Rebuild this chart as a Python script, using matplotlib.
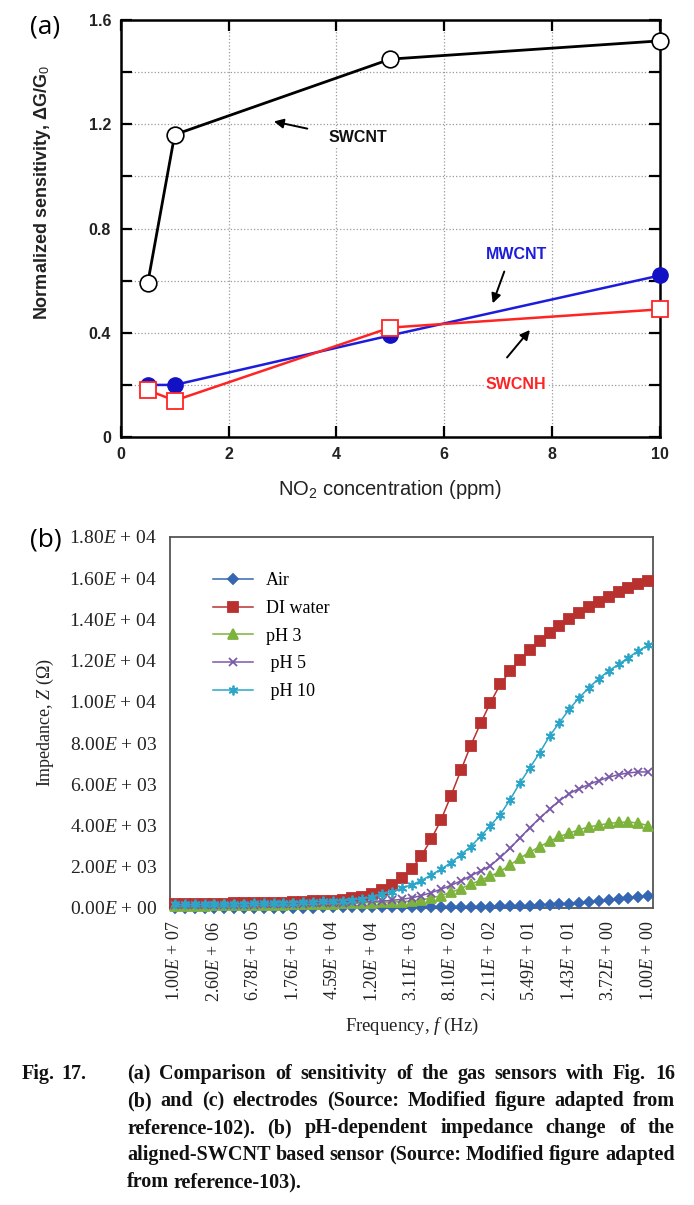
import numpy as np
import matplotlib
matplotlib.use("Agg")
import matplotlib.pyplot as plt

plt.rcParams['mathtext.fontset'] = 'custom'
plt.rcParams['mathtext.rm'] = 'Liberation Serif'
plt.rcParams['mathtext.it'] = 'Liberation Serif:italic'
plt.rcParams['mathtext.bf'] = 'Liberation Serif:bold'
plt.rcParams['mathtext.sf'] = 'Liberation Sans'

# ---- panel (a) data: NO2 sensitivity ----
conc = [0.5, 1, 5, 10]
swcnt = [0.59, 1.16, 1.45, 1.52]
mwcnt = [0.20, 0.20, 0.39, 0.62]
swcnh = [0.18, 0.14, 0.42, 0.49]

# ---- panel (b) data: impedance vs frequency (49 sweep points, high -> low f) ----
freq_labels = ['1.00E + 07', '2.60E + 06', '6.78E + 05', '1.76E + 05', '4.59E + 04',
               '1.20E + 04', '3.11E + 03', '8.10E + 02', '2.11E + 02', '5.49E + 01',
               '1.43E + 01', '3.72E + 00', '1.00E + 00']
air = [20, 20, 20, 20, 20, 20, 20, 20, 20, 20, 20, 20, 20, 20, 20, 25, 25, 25, 25, 30,
       30, 30, 35, 35, 40, 40, 45, 45, 50, 55, 60, 65, 70, 80, 90, 100, 110, 125, 145, 170,
       200, 240, 280, 320, 370, 420, 470, 530, 580]
di_water = [200, 200, 205, 210, 210, 215, 220, 225, 235, 245, 255, 265, 280, 295, 315, 335, 360,
            390, 470, 550, 680, 880, 1120, 1440, 1880, 2530, 3340, 4280, 5450, 6670, 7880, 8950,
            9960, 10850, 11500, 12030, 12500, 12960, 13320, 13690, 14010, 14310, 14580, 14830,
            15070, 15310, 15510, 15720, 15880]
ph3 = [100, 105, 110, 115, 120, 125, 130, 135, 140, 145, 150, 160, 170, 180, 190, 200, 210, 220,
       235, 250, 265, 280, 295, 310, 330, 400, 480, 600, 760, 940, 1150, 1350, 1550, 1770, 2090,
       2420, 2710, 2980, 3230, 3470, 3630, 3800, 3930, 4020, 4100, 4150, 4170, 4120, 3990]
ph5 = [120, 125, 130, 135, 140, 145, 150, 155, 160, 170, 180, 190, 200, 210, 220, 235, 250, 265,
       280, 300, 320, 340, 370, 420, 490, 600, 745, 910, 1100, 1310, 1560, 1800, 2050, 2450, 2900,
       3400, 3900, 4350, 4800, 5200, 5550, 5790, 5990, 6180, 6340, 6470, 6550, 6600, 6600]
ph10 = [170, 175, 180, 185, 190, 195, 200, 210, 220, 230, 240, 250, 265, 280, 295, 315, 335, 360,
        390, 440, 540, 680, 790, 960, 1120, 1330, 1610, 1880, 2200, 2580, 2980, 3470, 4000, 4530,
        5260, 6070, 6800, 7530, 8340, 8990, 9640, 10200, 10690, 11130, 11500, 11820, 12150, 12470,
        12750]
y_labels = ['0.00E + 00', '2.00E + 03', '4.00E + 03', '6.00E + 03', '8.00E + 03',
            '1.00E + 04', '1.20E + 04', '1.40E + 04', '1.60E + 04', '1.80E + 04']

caption = ["Fig. 17. (a) Comparison of sensitivity of the gas sensors with Fig. 16",
           "(b) and (c) electrodes (Source: Modified figure adapted from",
           "reference-102). (b) pH-dependent impedance change of the",
           "aligned-SWCNT based sensor (Source: Modified figure adapted",
           "from reference-103)."]

W, H = 694, 1205
fig = plt.figure(figsize=(W / 100, H / 100), dpi=100)

# ================= panel (a) =================
sans = 'Liberation Sans'
ax1 = fig.add_axes([0.174, 0.6373, 0.777, 0.3461])
ax1.plot(conc, mwcnt, color='#1c1cdc', lw=1.8, marker='o', ms=11, mfc='#1212c4',
         mec='#1212c4', zorder=3, clip_on=False)
ax1.plot(conc, swcnh, color='#ff2424', lw=1.8, marker='s', ms=12, mfc='white',
         mec='#ff2424', mew=1.3, zorder=4, clip_on=False)
ax1.plot(conc, swcnt, color='black', lw=2.0, marker='o', ms=12, mfc='white',
         mec='black', mew=1.2, zorder=5, clip_on=False)

ax1.set_xlim(0, 10)
ax1.set_ylim(0, 1.6)
ax1.set_xticks([0, 2, 4, 6, 8, 10])
ax1.set_yticks(np.arange(0, 1.61, 0.2))
ax1.set_yticklabels(['0', '', '0.4', '', '0.8', '', '1.2', '', '1.6'])
ax1.grid(True, ls=':', color='#9a9a9a', lw=0.9)
ax1.tick_params(direction='in', length=8, width=1.6, top=True, right=True,
                labelsize=11.5, pad=7)
for lab in ax1.get_xticklabels() + ax1.get_yticklabels():
    lab.set_fontweight('bold')
    lab.set_family(sans)
    lab.set_color('#222222')
for sp in ax1.spines.values():
    sp.set_linewidth(1.8)
ax1.set_ylabel('Normalized sensitivity, ΔG/G$_\\mathsf{0}$', fontsize=13, family=sans,
               fontweight='bold', color='#222222')
ax1.yaxis.set_label_coords(-0.125, 0.585)
ax1.set_xlabel('NO$_\\mathsf{2}$ concentration (ppm)', fontsize=14.5, family=sans,
               color='#222222', labelpad=12)

ann_font = dict(fontsize=11.5, fontweight='bold', family=sans, ha='center', va='center')
ax1.annotate('', xy=(2.79, 1.213), xytext=(3.51, 1.181),
             arrowprops=dict(arrowstyle='-|>', color='black', lw=1.4, mutation_scale=14))
ax1.text(4.40, 1.148, 'SWCNT', color='#111111', bbox=dict(fc='white', ec='none', pad=1),
         **ann_font)
ax1.annotate('', xy=(6.88, 0.503), xytext=(7.13, 0.645),
             arrowprops=dict(arrowstyle='-|>', color='black', lw=1.4, mutation_scale=14))
ax1.text(7.33, 0.70, 'MWCNT', color='#1c1cdc', bbox=dict(fc='white', ec='none', pad=1),
         **ann_font)
ax1.annotate('', xy=(7.62, 0.419), xytext=(7.13, 0.297),
             arrowprops=dict(arrowstyle='-|>', color='black', lw=1.4, mutation_scale=14))
ax1.text(7.33, 0.20, 'SWCNH', color='#ff2424', bbox=dict(fc='white', ec='none', pad=1),
         **ann_font)

fig.text(0.065, 0.978, '(a)', fontsize=19, family='Open Sans', ha='center', va='center')

# ================= panel (b) =================
ax2 = fig.add_axes([0.245, 0.2465, 0.696, 0.3079])
x = np.arange(len(air))
series = [
    ('Air', air, '#3566b2', 'D', 5),
    ('DI water', di_water, '#b8312f', 's', 6.5),
    ('pH 3', ph3, '#7db33c', '^', 6.5),
    (' pH 5', ph5, '#7a5aa8', 'x', 6),
    (' pH 10', ph10, '#2ba5c8', (6, 2, 0), 7),
]
for name, vals, col, mk, ms in series:
    ax2.plot(x, vals, color=col, lw=1.1, marker=mk, ms=ms, mec=col, mfc=col,
             mew=1.3, label=name, clip_on=False, zorder=3)

ax2.set_xlim(-0.5, 48.5)
ax2.set_ylim(0, 18000)
ax2.set_yticks(np.arange(0, 18001, 2000))
ax2.set_yticklabels([s.replace('E', '$E$') for s in y_labels],
                    family='Liberation Serif', fontsize=14)
ax2.set_xticks(x[::4])
ax2.set_xticklabels([s.replace('E', '$E$') for s in freq_labels], rotation=90,
                    family='Liberation Serif', fontsize=13)
ax2.tick_params(length=0, pad=9, colors='#222222')
for sp in ax2.spines.values():
    sp.set_linewidth(1.3)
    sp.set_color('#555555')
ax2.set_ylabel('Impedance, $Z$ (Ω)', family='Liberation Serif', fontsize=13,
               color='#222222', labelpad=10)
ax2.set_xlabel('Frequency, $f$ (Hz)', family='Liberation Serif', fontsize=13.5,
               color='#222222', labelpad=10)
ax2.legend(loc='upper left', bbox_to_anchor=(0.075, 0.925), frameon=False,
           prop={'family': 'Liberation Serif', 'size': 13}, handlelength=2.2,
           labelspacing=0.6, borderaxespad=0, handletextpad=0.7)

fig.text(0.066, 0.552, '(b)', fontsize=19, family='Open Sans', ha='center', va='center')

# ================= caption (justified) =================
cap_font = dict(family='Liberation Serif', fontweight='bold', fontsize=14.5, va='baseline',
                color='#111111')
renderer = fig.canvas.get_renderer()
right_px = 675
for i, line in enumerate(caption):
    yf = 1 - (1079 + 27 * i) / H
    words = line.split(' ')
    texts = [fig.text(0, yf, w, **cap_font) for w in words]
    widths = [t.get_window_extent(renderer).width for t in texts]
    if i == 0:
        # hanging label "Fig. 17." then the paragraph starts at the indent
        texts[0].set_x(22 / W)
        texts[1].set_x((22 + widths[0] + 6) / W)
        texts, widths = texts[2:], widths[2:]
    if i == len(caption) - 1:
        gap = 4.5
    else:
        gap = (right_px - 127 - sum(widths)) / (len(texts) - 1)
    pos = 127
    for t, w in zip(texts, widths):
        t.set_x(pos / W)
        pos += w + gap

fig.savefig('out.png', dpi=100)
